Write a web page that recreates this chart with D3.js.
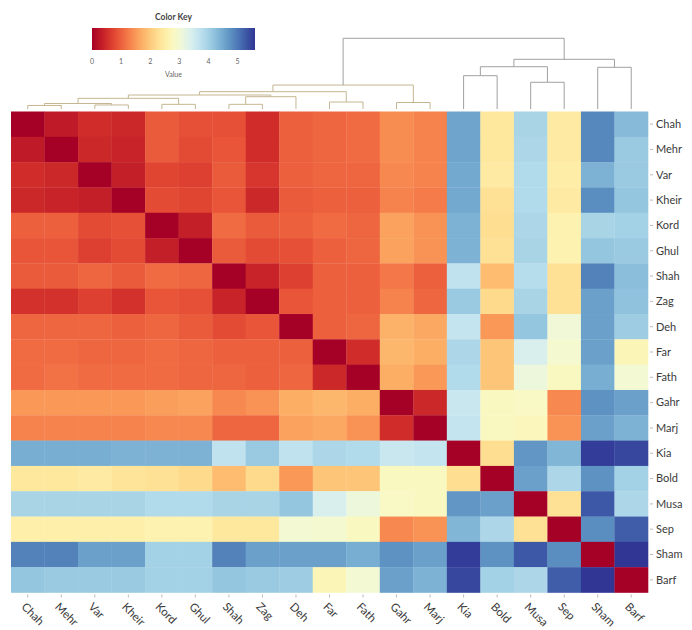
<!DOCTYPE html>
<html>
<head>
<meta charset="utf-8">
<script src="https://cdn.jsdelivr.net/npm/d3@7"></script>
<style>
  body { margin: 0; background: #fff; }
  svg { display: block; font-family: Lato, "Open Sans", sans-serif; }
</style>
</head>
<body>
<svg id="d3-heatmap" width="692" height="630"></svg>
<script>
"use strict";

/******************************************************* Data *******************************************************/

// Row and column labels (same order for both)
const LABELS = ["Chah", "Mehr", "Var", "Kheir", "Kord", "Ghul", "Shah", "Zag", "Deh", "Far",
  "Fath", "Gahr", "Marj", "Kia", "Bold", "Musa", "Sep", "Sham", "Barf"];

// Distance matrix, one row per label
const DISTANCES = [
  [0, 0.3, 0.5, 0.45, 0.95, 0.85, 0.85, 0.5, 1.0, 1.05, 1.1, 1.4, 1.3, 4.55, 2.4, 3.95, 2.45, 4.85, 4.3],
  [0.3, 0, 0.45, 0.4, 0.95, 0.8, 0.9, 0.5, 1.0, 1.05, 1.1, 1.4, 1.3, 4.55, 2.4, 3.9, 2.45, 4.85, 4.1],
  [0.5, 0.45, 0, 0.35, 0.75, 0.7, 0.95, 0.6, 1.0, 1.05, 1.05, 1.35, 1.3, 4.5, 2.45, 3.85, 2.5, 4.4, 4.1],
  [0.45, 0.4, 0.35, 0, 0.8, 0.75, 0.9, 0.45, 0.95, 1.0, 1.0, 1.3, 1.25, 4.5, 2.3, 3.85, 2.45, 4.8, 4.15],
  [1.0, 1.0, 0.8, 0.85, 0, 0.35, 1.1, 0.95, 1.0, 1.1, 1.05, 1.6, 1.45, 4.4, 2.25, 3.9, 2.6, 3.95, 4.0],
  [0.9, 0.9, 0.7, 0.8, 0.35, 0, 0.95, 0.8, 0.85, 1.0, 1.05, 1.6, 1.45, 4.4, 2.3, 3.95, 2.6, 4.15, 4.1],
  [0.95, 0.95, 1.05, 0.95, 1.1, 1.05, 0, 0.4, 0.7, 1.0, 1.0, 1.2, 1.0, 3.7, 1.85, 3.8, 2.3, 4.9, 4.25],
  [0.55, 0.55, 0.7, 0.55, 0.9, 0.85, 0.4, 0, 0.9, 1.0, 1.0, 1.3, 1.05, 4.1, 2.2, 3.95, 2.3, 4.6, 4.2],
  [1.05, 1.05, 1.05, 1.0, 1.05, 0.95, 0.8, 0.9, 0, 1.0, 1.05, 1.75, 1.65, 3.65, 1.5, 4.15, 3.05, 4.6, 4.05],
  [1.1, 1.1, 1.05, 1.05, 1.1, 1.05, 1.0, 1.0, 1.0, 0, 0.5, 1.8, 1.7, 3.9, 1.95, 3.4, 2.95, 4.6, 2.7],
  [1.1, 1.15, 1.1, 1.1, 1.1, 1.05, 1.05, 1.0, 1.05, 0.45, 0, 1.7, 1.5, 3.85, 1.95, 3.1, 2.8, 4.45, 3.0],
  [1.5, 1.5, 1.5, 1.5, 1.55, 1.6, 1.35, 1.45, 1.7, 1.8, 1.7, 0, 0.45, 3.6, 2.8, 2.85, 1.35, 4.75, 4.6],
  [1.3, 1.3, 1.3, 1.3, 1.35, 1.35, 1.05, 1.05, 1.6, 1.65, 1.45, 0.5, 0, 3.65, 2.8, 2.75, 1.45, 4.6, 4.4],
  [4.45, 4.45, 4.45, 4.4, 4.4, 4.4, 3.7, 4.1, 3.7, 3.9, 3.85, 3.6, 3.65, 0, 2.25, 4.7, 4.35, 5.55, 5.45],
  [2.4, 2.4, 2.45, 2.35, 2.3, 2.2, 1.85, 2.2, 1.5, 1.95, 1.95, 2.8, 2.8, 2.25, 0, 4.6, 3.9, 4.75, 4.0],
  [3.95, 3.95, 3.95, 3.95, 3.85, 3.85, 3.95, 3.95, 4.15, 3.4, 3.1, 2.85, 2.8, 4.7, 4.6, 0, 2.3, 5.3, 3.9],
  [2.55, 2.55, 2.55, 2.55, 2.6, 2.6, 2.4, 2.4, 3.0, 2.95, 2.8, 1.35, 1.45, 4.35, 3.9, 2.3, 0, 4.8, 5.25],
  [4.9, 4.9, 4.6, 4.6, 4.0, 4.0, 4.9, 4.6, 4.6, 4.6, 4.45, 4.75, 4.6, 5.55, 4.75, 5.3, 4.8, 0, 5.6],
  [4.15, 4.1, 4.1, 4.1, 4.0, 4.0, 4.15, 4.1, 4.05, 2.7, 3.0, 4.6, 4.4, 5.45, 4.0, 3.9, 5.25, 5.6, 0]
];

// Column dendrogram merges: [left child, right child, height]; merge i is referred to as "m" + (i + 1)
const MERGES = [
  ["Chah", "Mehr", 0.5],
  ["Var", "Kheir", 0.57],
  ["m1", "m2", 0.78],
  ["Kord", "Ghul", 0.66],
  ["m3", "m4", 1.51],
  ["Shah", "Zag", 0.66],
  ["m6", "Deh", 1.74],
  ["m5", "m7", 1.98],
  ["Far", "Fath", 0.99],
  ["m8", "m9", 2.45],
  ["Gahr", "Marj", 0.92],
  ["m10", "m11", 3.39],
  ["Kia", "Bold", 4.71],
  ["Musa", "Sep", 3.78],
  ["m13", "m14", 5.98],
  ["Sham", "Barf", 5.9],
  ["m15", "m16", 7.03],
  ["m12", "m17", 10]
];
const TREE_MAX = 10;

// Color key
const KEY_TICKS = [0, 1, 2, 3, 4, 5];
const KEY_MAX = 5.6;
const KEY_TITLE = "Color Key";
const KEY_LABEL = "Value";

/******************************************************* Dimensions *******************************************************/

const SVG_ID = "#d3-heatmap";
const MAP_LEFT = 11;
const MAP_RIGHT = 648;
const MAP_TOP = 111.5;
const MAP_BOTTOM = 592.5;
const TREE_BOTTOM = 109;
const TREE_TOP = 38.3;
const KEY_X0 = 92;
const KEY_X1 = 255;
const KEY_Y0 = 28;
const KEY_Y1 = 50;
const LEFT_TREE_COLOR = "#c4b690";
const TREE_COLOR = "#a0a0a0";
const LABEL_COLOR = "#3a3a3a";

/******************************************************* Render *******************************************************/

const SVG = d3.select(SVG_ID);

const COLOR = d3.scaleSequential(d3.interpolateRdYlBu).domain([0, KEY_MAX]);

const X_SCALE = d3.scaleBand().domain(LABELS).range([MAP_LEFT, MAP_RIGHT]);
const Y_SCALE = d3.scaleBand().domain(LABELS).range([MAP_TOP, MAP_BOTTOM]);
const H_SCALE = d3.scaleLinear().domain([0, TREE_MAX]).range([TREE_BOTTOM, TREE_TOP]);

// Flatten matrix into cells
const CELLS = [];
DISTANCES.forEach(function(row, i) {
  row.forEach(function(v, j) {
    CELLS.push({ row: LABELS[i], col: LABELS[j], value: v });
  });
});

// Heatmap cells
SVG.append("g")
  .classed("g-cells", true)
  .selectAll("rect")
  .data(CELLS)
  .join("rect")
  .attr("x", d => X_SCALE(d.col))
  .attr("y", d => Y_SCALE(d.row))
  .attr("width", X_SCALE.bandwidth() + 0.3)
  .attr("height", Y_SCALE.bandwidth() + 0.3)
  .attr("fill", d => COLOR(d.value));

// Row labels with small ticks
const G_ROWS = SVG.append("g").classed("g-rows", true);
G_ROWS.selectAll("line")
  .data(LABELS)
  .join("line")
  .attr("x1", MAP_RIGHT + 2)
  .attr("x2", MAP_RIGHT + 5)
  .attr("y1", d => Y_SCALE(d) + Y_SCALE.bandwidth() / 2)
  .attr("y2", d => Y_SCALE(d) + Y_SCALE.bandwidth() / 2)
  .attr("stroke", "#bbb");
G_ROWS.selectAll("text")
  .data(LABELS)
  .join("text")
  .attr("x", MAP_RIGHT + 8)
  .attr("y", d => Y_SCALE(d) + Y_SCALE.bandwidth() / 2)
  .attr("dy", "0.35em")
  .attr("font-size", 11)
  .attr("fill", LABEL_COLOR)
  .text(d => d);

// Column labels, rotated
const G_COLS = SVG.append("g").classed("g-cols", true);
G_COLS.selectAll("line")
  .data(LABELS)
  .join("line")
  .attr("x1", d => X_SCALE(d) + X_SCALE.bandwidth() / 2)
  .attr("x2", d => X_SCALE(d) + X_SCALE.bandwidth() / 2)
  .attr("y1", MAP_BOTTOM + 2)
  .attr("y2", MAP_BOTTOM + 5)
  .attr("stroke", "#bbb");
G_COLS.selectAll("text")
  .data(LABELS)
  .join("text")
  .attr("transform", d => "translate(" + (X_SCALE(d) + X_SCALE.bandwidth() / 2 - 7) + "," + (MAP_BOTTOM + 15) + ") rotate(45)")
  .attr("font-size", 11.5)
  .attr("fill", LABEL_COLOR)
  .text(d => d);

// Dendrogram
const NODE_X = {};
const NODE_H = {};
const NODE_MAX_LEAF = {};
LABELS.forEach(function(l, i) {
  NODE_X[l] = X_SCALE(l) + X_SCALE.bandwidth() / 2;
  NODE_H[l] = 0;
  NODE_MAX_LEAF[l] = i;
});
const G_TREE = SVG.append("g").classed("g-tree", true).attr("fill", "none").attr("stroke-width", 1);
MERGES.forEach(function(m, i) {
  const id = "m" + (i + 1);
  const a = m[0];
  const b = m[1];
  NODE_X[id] = (NODE_X[a] + NODE_X[b]) / 2;
  NODE_H[id] = m[2];
  NODE_MAX_LEAF[id] = Math.max(NODE_MAX_LEAF[a], NODE_MAX_LEAF[b]);

  const p = d3.path();
  p.moveTo(NODE_X[a], H_SCALE(NODE_H[a]));
  p.lineTo(NODE_X[a], H_SCALE(m[2]));
  p.lineTo(NODE_X[b], H_SCALE(m[2]));
  p.lineTo(NODE_X[b], H_SCALE(NODE_H[b]));

  // Left cluster drawn in a warm tint
  const isLeft = NODE_MAX_LEAF[id] <= LABELS.indexOf("Marj");
  G_TREE.append("path")
    .attr("d", p.toString())
    .attr("stroke", isLeft ? LEFT_TREE_COLOR : TREE_COLOR);
});

// Color key
const KEY_SCALE = d3.scaleLinear().domain([0, KEY_MAX]).range([KEY_X0, KEY_X1]);
const GRAD = SVG.append("defs").append("linearGradient").attr("id", "key-grad");
d3.range(0, 1.0001, 0.05).forEach(function(t) {
  GRAD.append("stop")
    .attr("offset", t)
    .attr("stop-color", COLOR(t * KEY_MAX));
});
const G_KEY = SVG.append("g").classed("g-key", true);
G_KEY.append("rect")
  .attr("x", KEY_X0)
  .attr("y", KEY_Y0)
  .attr("width", KEY_X1 - KEY_X0)
  .attr("height", KEY_Y1 - KEY_Y0)
  .attr("fill", "url(#key-grad)");
G_KEY.append("text")
  .attr("x", (KEY_X0 + KEY_X1) / 2)
  .attr("y", 20)
  .attr("text-anchor", "middle")
  .attr("font-size", 8.5)
  .attr("font-weight", "bold")
  .attr("fill", "#444")
  .text(KEY_TITLE);
G_KEY.selectAll(".key-tick")
  .data(KEY_TICKS)
  .join("text")
  .classed("key-tick", true)
  .attr("x", d => KEY_SCALE(d))
  .attr("y", 64)
  .attr("text-anchor", "middle")
  .attr("font-size", 7)
  .attr("fill", "#666")
  .text(d => d);
G_KEY.append("text")
  .attr("x", (KEY_X0 + KEY_X1) / 2)
  .attr("y", 77)
  .attr("text-anchor", "middle")
  .attr("font-size", 7)
  .attr("fill", "#666")
  .text(KEY_LABEL);
</script>
</body>
</html>
